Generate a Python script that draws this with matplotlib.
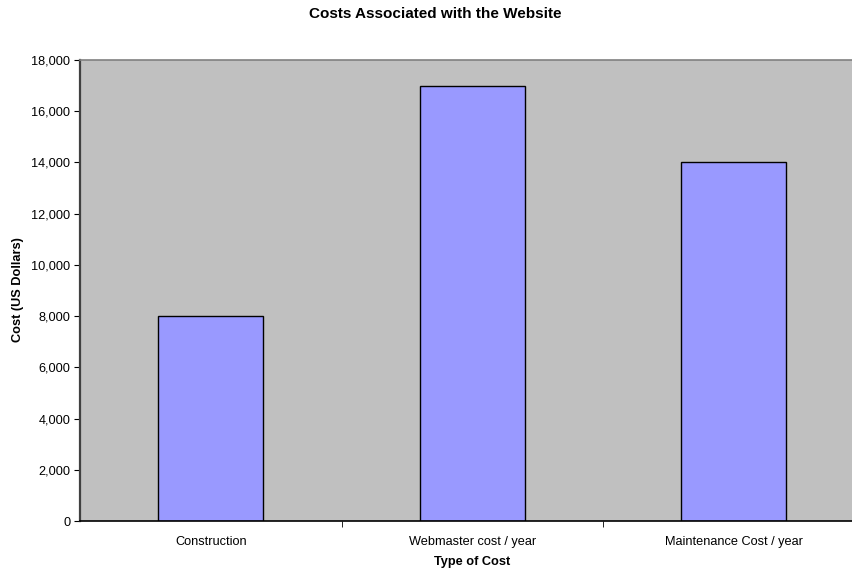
import matplotlib.pyplot as plt
import numpy as np

plt.rcParams['font.family'] = ['Liberation Sans', 'DejaVu Sans']

categories = ['Construction', 'Webmaster cost / year', 'Maintenance Cost / year']
costs = [8000, 17000, 14000]

W, H = 852, 569
fig = plt.figure(figsize=(W / 100, H / 100), dpi=100)
ax = fig.add_axes([80 / W, 48 / H, 784.5 / W, 461 / H])
ax.set_facecolor('#C0C0C0')

x = np.arange(len(categories))
ax.bar(x, costs, width=0.4, color='#9999FF', edgecolor='black', linewidth=1, zorder=2)

ax.set_xlim(-0.5, len(categories) - 0.5)
ax.set_ylim(0, 18000)
ax.set_yticks(np.arange(0, 18001, 2000))
ax.set_yticklabels([f'{v:,}' for v in range(0, 18001, 2000)], fontsize=9.2)
ax.set_xticks(x)
ax.set_xticklabels(categories, fontsize=9.2)
ax.tick_params(axis='x', which='major', length=0, pad=11)
ax.set_xticks(x[:-1] + 0.5, minor=True)
ax.tick_params(axis='x', which='minor', length=4, direction='out', color='black')
ax.tick_params(axis='y', length=4, direction='out', color='black', pad=3)

ax.spines['top'].set_color('#808080')
ax.spines['right'].set_visible(False)
ax.spines['left'].set_color('#404040')
ax.spines['left'].set_linewidth(1.6)
ax.spines['bottom'].set_color('black')
ax.spines['bottom'].set_linewidth(1.2)
ax.spines['top'].set_linewidth(1.2)

fig.text(435.5 / W, 1 - 14 / H, 'Costs Associated with the Website', ha='center', va='center',
         fontsize=11, fontweight='bold')
fig.text(472 / W, 1 - 562 / H, 'Type of Cost', ha='center', va='center', fontsize=9.2, fontweight='bold')
fig.text(18 / W, 1 - 290 / H, 'Cost (US Dollars)', ha='center', va='center', rotation=90,
         fontsize=9.2, fontweight='bold')

fig.savefig('out.png', dpi=100)
